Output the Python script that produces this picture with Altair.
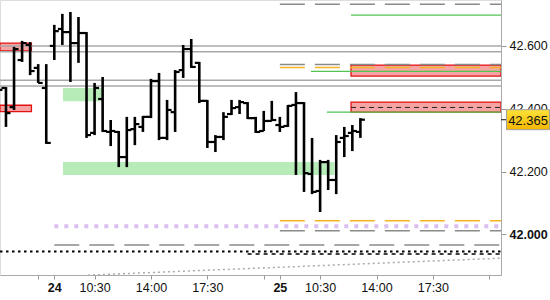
import altair as alt
import pandas as pd

# ---------------- data ----------------
# time axis: trading hours counted from the 24th 08:00 (sessions 08:00-22:00, no gap)
X_MIN, X_MAX = -3.371, 27.728
Y_MIN, Y_MAX = 41.8704, 42.7462

bar_t = [-3.5, -3.0, -2.5, -2.0, -1.5, -1.0, -0.5, 0.0, 0.5, 1.0,
         1.5, 2.0, 2.5, 3.0, 3.5, 4.0, 4.5, 5.0, 5.5, 6.0,
         6.5, 7.0, 7.5, 8.0, 8.5, 9.0, 9.5, 10.0, 10.5, 11.0,
         11.5, 12.0, 12.5, 13.0, 13.5, 14.0, 14.5, 15.0, 15.5, 16.0,
         16.5, 17.0, 17.5, 18.0, 18.5, 19.0]
bar_open = [42.491, 42.466, 42.405, 42.555, 42.603, 42.530, 42.466, 42.600, 42.654, 42.644,
            42.609, 42.641, 42.323, 42.431, 42.326, 42.326, 42.246, 42.335, 42.342, 42.374,
            42.488, 42.307, 42.389, 42.523, 42.590, 42.546, 42.425, 42.294, 42.310, 42.383,
            42.405, 42.418, 42.370, 42.329, 42.361, 42.348, 42.345, 42.412, 42.418, 42.192,
            42.138, 42.230, 42.173, 42.307, 42.323, 42.326]
bar_high = [42.539, 42.469, 42.597, 42.616, 42.612, 42.542, 42.542, 42.667, 42.702, 42.708,
            42.692, 42.644, 42.482, 42.501, 42.364, 42.329, 42.374, 42.374, 42.377, 42.495,
            42.514, 42.428, 42.523, 42.603, 42.622, 42.549, 42.428, 42.316, 42.389, 42.428,
            42.428, 42.421, 42.374, 42.393, 42.425, 42.374, 42.412, 42.453, 42.421, 42.307,
            42.237, 42.237, 42.316, 42.342, 42.348, 42.370]
bar_low = [42.444, 42.342, 42.396, 42.549, 42.507, 42.482, 42.288, 42.555, 42.603, 42.485,
           42.546, 42.307, 42.316, 42.326, 42.281, 42.214, 42.214, 42.284, 42.326, 42.370,
           42.300, 42.300, 42.326, 42.498, 42.530, 42.418, 42.275, 42.262, 42.300, 42.380,
           42.383, 42.367, 42.323, 42.329, 42.361, 42.326, 42.342, 42.189, 42.135, 42.128,
           42.071, 42.141, 42.128, 42.246, 42.265, 42.307]
bar_close = [42.460, 42.386, 42.590, 42.609, 42.520, 42.482, 42.291, 42.647, 42.644, 42.609,
             42.641, 42.316, 42.466, 42.329, 42.329, 42.246, 42.332, 42.351, 42.374, 42.488,
             42.307, 42.396, 42.517, 42.590, 42.533, 42.425, 42.294, 42.310, 42.374, 42.402,
             42.421, 42.370, 42.326, 42.361, 42.364, 42.342, 42.409, 42.418, 42.195, 42.135,
             42.230, 42.173, 42.294, 42.313, 42.329, 42.365]

# x-axis ticks
tick_t = [-1, 0, 2.5, 6, 9.5, 13, 14, 16.5, 20, 23.5, 27]
tick_labels = ["", "24", "10:30", "14:00", "17:30", "", "25", "10:30", "14:00", "17:30", ""]
day_ticks = [0, 14]
price_ticks = [42.0, 42.2, 42.4, 42.6]

# zones
red_t0 = [X_MIN, X_MIN, 18.42, 18.42]
red_t1 = [-1.42, -1.42, X_MAX, X_MAX]
red_p0 = [42.584, 42.391, 42.504, 42.389]
red_p1 = [42.609, 42.411, 42.539, 42.421]

green_t0 = [0.54, 0.54]
green_t1 = [2.96, 17.39]
green_p0 = [42.424, 42.189]
green_p1 = [42.466, 42.230]

# level lines
gray_solid_p = [42.600, 42.581, 42.491, 42.472]
green_line_p = [42.698, 42.519, 42.389]
green_line_t0 = [18.42, 15.93, 16.92]
gray_dash_p = [42.733, 42.541, 42.011, 41.966]
gray_dash_t0 = [14, 14, 14, 0]
orange_dash_p = [42.531, 42.043]
orange_dash_t0 = [14, 14]
lilac_p, lilac_t0 = [42.026], [0]
black_dot_p, black_dot_t0 = [41.945], [X_MIN]
black_dash_p, black_dash_t0 = [41.937], [12]
fine_dash_p, fine_dash_t0 = [42.404], [18.42]
trend_t = [2.09, 27.728]
trend_p = [41.870, 41.924]

last_price = [42.365]

# ---------------- chart ----------------
FONT = "Liberation Sans"
label_expr = " : ".join(
    f"datum.value == {v} ? '{l}'" for v, l in zip(tick_t, tick_labels)
) + " : ''"
day_test = " || ".join(f"datum.value == {d}" for d in day_ticks)

x_axis = alt.Axis(values=tick_t, labelExpr=label_expr, title=None, grid=False,
                  tickSize=4, tickColor="#999", domainColor="#aaa",
                  labelFont=FONT, labelFontSize=12.5, labelColor="#111",
                  labelPadding=2, labelOverlap=False, labelFlush=False, labelBound=False,
                  labelFontWeight=alt.ExprRef(expr=f"({day_test}) ? 'bold' : 'normal'"))
y_axis = alt.Axis(orient="right", values=price_ticks, format=".3f", title=None, grid=False,
                  tickSize=5, tickColor="#999", domainColor="#aaa",
                  labelFont=FONT, labelFontSize=12.5, labelColor="#111", labelPadding=3,
                  labelFontWeight=alt.ExprRef(expr="datum.value == 42 ? 'bold' : 'normal'"))
xs = alt.Scale(domain=[X_MIN, X_MAX], nice=False, zero=False)
ys = alt.Scale(domain=[Y_MIN, Y_MAX], nice=False, zero=False)


def X(f):
    return alt.X(f"{f}:Q", scale=xs, axis=x_axis)


def Y(f):
    return alt.Y(f"{f}:Q", scale=ys, axis=y_axis)


bars = pd.DataFrame({"t": bar_t, "o": bar_open, "h": bar_high, "l": bar_low, "c": bar_close})
red = pd.DataFrame({"t0": red_t0, "t1": red_t1, "p0": red_p0, "p1": red_p1})
green = pd.DataFrame({"t0": green_t0, "t1": green_t1, "p0": green_p0, "p1": green_p1})


def levels(ps, t0s, t1=X_MAX):
    return pd.DataFrame({"p": ps, "t0": t0s, "t1": [t1] * len(ps)})


def level_layer(df, **kw):
    return alt.Chart(df).mark_rule(clip=True, **kw).encode(x=X("t0"), x2="t1", y=Y("p"))


green_zone = alt.Chart(green).mark_rect(fill="#b7ebb7", clip=True).encode(
    x=X("t0"), x2="t1", y=Y("p0"), y2="p1")
red_zone = alt.Chart(red).mark_rect(fill="#f5a3a3", stroke="#e41010", strokeWidth=1.3, clip=True).encode(
    x=X("t0"), x2="t1", y=Y("p0"), y2="p1")

gray_solid = level_layer(levels(gray_solid_p, [X_MIN] * 4), color="#a8a8a8", strokeWidth=1.5)
gray_dash = level_layer(levels(gray_dash_p, gray_dash_t0), color="#8a8a8a", strokeWidth=1.5,
                        strokeDash=[25, 10])
orange_dash = level_layer(levels(orange_dash_p, orange_dash_t0), color="#f5b324", strokeWidth=1.5,
                          strokeDash=[25, 10])
green_lines = level_layer(levels(green_line_p, green_line_t0), color="#52c452", strokeWidth=1.2)
lilac = level_layer(levels(lilac_p, lilac_t0), color="#dcbff0", strokeWidth=4, strokeDash=[4, 6])
black_dot = level_layer(levels(black_dot_p, black_dot_t0), color="#000", strokeWidth=2,
                        strokeDash=[2.5, 3.5])
black_dash = level_layer(levels(black_dash_p, black_dash_t0), color="#000", strokeWidth=1.5,
                         strokeDash=[4, 4])
fine_dash = level_layer(levels(fine_dash_p, fine_dash_t0), color="#222", strokeWidth=1,
                        strokeDash=[5, 4])
trend = alt.Chart(pd.DataFrame({"t": trend_t, "p": trend_p})).mark_line(
    color="#aaaaaa", strokeWidth=1.5, strokeDash=[2, 3], clip=True).encode(x=X("t"), y=Y("p"))

base = alt.Chart(bars)
hl = base.mark_rule(color="#000", strokeWidth=2.6, clip=True).encode(x=X("t"), y=Y("l"), y2="h")
op = base.mark_rule(color="#000", strokeWidth=2.2, clip=True, xOffset=-4.5, x2Offset=0).encode(
    x=X("t"), x2="t", y=Y("o"))
cl = base.mark_rule(color="#000", strokeWidth=2.2, clip=True, xOffset=0, x2Offset=4.5).encode(
    x=X("t"), x2="t", y=Y("c"))

lp = pd.DataFrame({"p": last_price})
lp_tick = alt.Chart(lp).mark_rule(color="#333", strokeWidth=1.2).encode(
    x=alt.value(501), x2=alt.value(506), y=Y("p"))
lp_box = alt.Chart(lp).mark_rect(
    fill=alt.Gradient(gradient="linear", x1=0, y1=0, x2=0, y2=1,
                      stops=[alt.GradientStop(color="#ffe23a", offset=0),
                             alt.GradientStop(color="#f2b600", offset=1)]),
    stroke="#a0a0a0", strokeWidth=1, yOffset=-10, y2Offset=10).encode(
    x=alt.value(506.5), x2=alt.value(549.5), y=Y("p"), y2="p")
lp_text = alt.Chart(lp).mark_text(font=FONT, fontSize=13, color="#111", align="center",
                                  baseline="middle", dy=1).encode(
    x=alt.value(528), y=Y("p"), text=alt.Text("p:Q", format=".3f"))

chart = alt.layer(
    green_zone, red_zone, gray_solid, green_lines, gray_dash, orange_dash, fine_dash,
    lilac, black_dot, black_dash, trend, hl, op, cl, lp_tick, lp_box, lp_text
).properties(
    width=501, height=275, autosize="none",
    padding={"left": 0, "top": 0, "right": 49, "bottom": 25},
).configure_view(strokeWidth=0).configure(background="white")

chart.save("out.html", embed_options={"renderer": "svg", "actions": False})
